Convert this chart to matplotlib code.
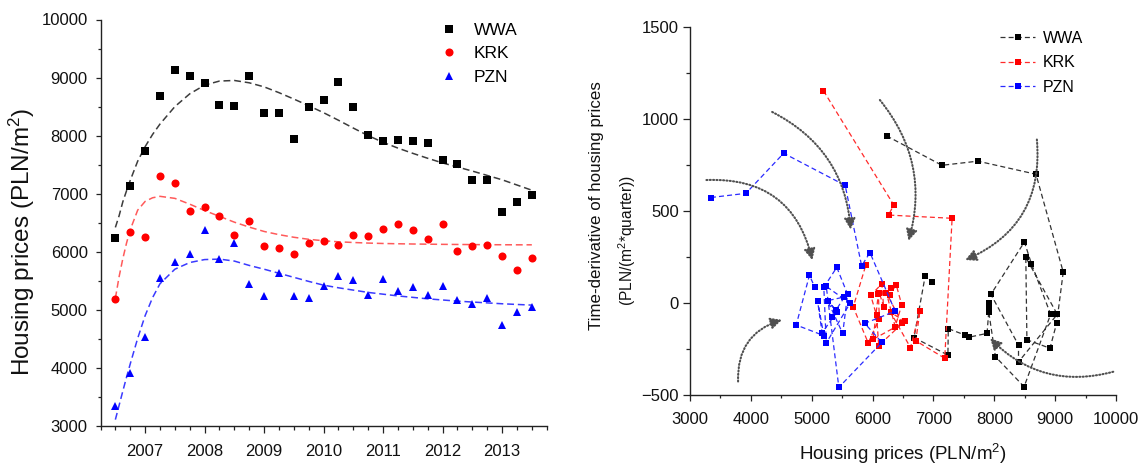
import numpy as np
import matplotlib
matplotlib.use("Agg")
import matplotlib.pyplot as plt
from matplotlib.ticker import MultipleLocator

plt.rcParams['font.family'] = ['Liberation Sans', 'DejaVu Sans']
plt.rcParams['mathtext.fontset'] = 'custom'
plt.rcParams['mathtext.rm'] = 'Liberation Sans'
plt.rcParams['mathtext.it'] = 'Liberation Sans:italic'

# ---------------- data ----------------
quarters = [2006.50, 2006.75, 2007.00, 2007.25, 2007.50, 2007.75, 2008.00, 2008.25,
            2008.50, 2008.75, 2009.00, 2009.25, 2009.50, 2009.75, 2010.00, 2010.25,
            2010.50, 2010.75, 2011.00, 2011.25, 2011.50, 2011.75, 2012.00, 2012.25,
            2012.50, 2012.75, 2013.00, 2013.25, 2013.50]

wwa = [6230, 7140, 7730, 8685, 9133, 9024, 8915, 8536, 8518, 9035, 8398, 8398, 7944, 8495,
       8610, 8926, 8490, 8019, 7910, 7921, 7915, 7881, 7588, 7513, 7244, 7238, 6681, 6865, 6980]
krk = [5193, 6348, 6262, 7307, 7186, 6710, 6778, 6623, 6296, 6526, 6101, 6066, 5969, 6153,
       6181, 6112, 6296, 6279, 6388, 6480, 6371, 6227, 6486, 6009, 6095, 6112, 5928, 5682, 5888]
pzn = [3344, 3919, 4539, 5550, 5820, 5957, 6371, 5871, 6153, 5446, 5239, 5630, 5239, 5199,
       5412, 5590, 5509, 5262, 5538, 5331, 5394, 5262, 5417, 5170, 5096, 5199, 4745, 4963, 5050]

# fitted trend curves
fit_t = [2006.5, 2006.5625, 2006.625, 2006.6875, 2006.75, 2006.875, 2007.0, 2007.125, 2007.25,
         2007.5, 2007.75, 2008.0, 2008.25, 2008.5, 2008.75, 2009.0, 2009.25, 2009.5, 2009.75,
         2010.0, 2010.25, 2010.5, 2010.75, 2011.0, 2011.25, 2011.5, 2011.75, 2012.0, 2012.25,
         2012.5, 2012.75, 2013.0, 2013.25, 2013.5]
wwa_fit = [6420, 6620, 6860, 7050, 7230, 7560, 7810, 8020, 8200,
           8500, 8720, 8870, 8940, 8950, 8910, 8840, 8740, 8630, 8515,
           8395, 8265, 8130, 8000, 7885, 7785, 7695, 7610, 7530, 7460,
           7390, 7315, 7240, 7150, 7060]
krk_fit = [5200, 5570, 5880, 6150, 6380, 6717, 6867, 6930, 6955,
           6920, 6820, 6710, 6610, 6510, 6425, 6350, 6295, 6250, 6215,
           6190, 6172, 6160, 6150, 6143, 6138, 6134, 6131, 6128, 6126,
           6124, 6122, 6121, 6120, 6120]
pzn_fit = [3110, 3355, 3600, 3840, 4070, 4510, 4900, 5210, 5450,
           5700, 5815, 5866, 5874, 5840, 5765, 5700, 5630, 5560, 5490,
           5425, 5380, 5340, 5300, 5270, 5240, 5215, 5190, 5170, 5150,
           5135, 5120, 5105, 5093, 5082]

labels = ['WWA', 'KRK', 'PZN']
year_ticks = [2007, 2008, 2009, 2010, 2011, 2012, 2013]

# dotted guide arrows in the phase plot: (start, end, curvature)
arrows = [((3270, 670), (5010, 235), -0.41),
          ((4350, 1040), (5640, 400), -0.28),
          ((6120, 1105), (6590, 340), -0.26),
          ((8700, 890), (7520, 235), -0.36),
          ((3790, -425), (4510, -90), -0.38),
          ((9955, -372), (7930, -190), -0.29)]

# ---------------- figure ----------------
W, H = 1148, 466
fig = plt.figure(figsize=(W / 100, H / 100), dpi=100)

ax1 = fig.add_axes([100.5 / W, 40 / H, 446.2 / W, 406.5 / H])
ax2 = fig.add_axes([690 / W, 70.7 / H, 426 / W, 368 / H])

for ax in (ax1, ax2):
    ax.spines['top'].set_visible(False)
    ax.spines['right'].set_visible(False)
    for s in ('left', 'bottom'):
        ax.spines[s].set_linewidth(1.0)
        ax.spines[s].set_color('#222222')
    ax.tick_params(which='both', direction='out', color='#222222', width=0.9,
                   labelsize=12, labelcolor='#111111')

# ----- left panel -----
pt_colors = ['#000000', '#ff0000', '#0000ff']
fit_colors = ['#3c3c3c', '#ff5a5a', '#3a3aff']
markers = ['s', 'o', '^']
msizes = [5.2, 5.8, 6.2]
for series, fit, c, fc, m, ms, lab in zip((wwa, krk, pzn), (wwa_fit, krk_fit, pzn_fit),
                                          pt_colors, fit_colors, markers, msizes, labels):
    ax1.plot(fit_t, fit, linestyle=(0, (4.5, 2.5)), color=fc, lw=1.1, zorder=2)
    ax1.plot(quarters, series, linestyle='none', marker=m, ms=ms, color=c,
             markeredgewidth=0, label=lab, zorder=3)

ax1.set_xlim(2006.25, 2013.75)
ax1.set_ylim(3000, 10000)
ax1.set_xticks(year_ticks)
ax1.xaxis.set_minor_locator(MultipleLocator(0.25))
ax1.yaxis.set_major_locator(MultipleLocator(1000))
ax1.yaxis.set_minor_locator(MultipleLocator(500))
ax1.tick_params(axis='x', which='major', length=5, pad=8)
ax1.tick_params(axis='x', which='minor', length=3)
ax1.tick_params(axis='y', which='major', length=3.7, pad=5.5)
ax1.tick_params(axis='y', which='minor', length=2.3)

leg1 = ax1.legend(loc='upper left', bbox_to_anchor=(0.762, 0.992), frameon=False,
                  fontsize=12.5, handlelength=1.0, handletextpad=0.9, labelspacing=0.48,
                  borderpad=0, borderaxespad=0, markerscale=1.0)

fig.text(22 / W, 1 - 242 / H, 'Housing prices (PLN/m$^\\mathregular{2}$)', rotation=90,
         ha='center', va='center', fontsize=17.5, color='#111111')

# ----- right panel -----
line_colors = ['#333333', '#ff2a2a', '#2a2aff']
for series, c, lc, lab in zip((wwa, krk, pzn), pt_colors, line_colors, labels):
    deriv = np.gradient(np.asarray(series, dtype=float))  # PLN/(m2*quarter)
    ax2.plot(series, deriv, linestyle=(0, (4, 2.5)), color=lc, lw=0.9,
             marker='s', ms=5, markerfacecolor=c, markeredgecolor=c, markeredgewidth=0,
             label=lab)

for (x0, y0), (x1, y1), rad in arrows:
    ax2.annotate('', xy=(x1, y1), xytext=(x0, y0),
                 arrowprops=dict(arrowstyle='-|>,head_length=0.55,head_width=0.28',
                                 connectionstyle='arc3,rad=%g' % rad,
                                 linestyle=(0, (0.5, 1.1)), lw=1.5, color='#505050',
                                 shrinkA=0, shrinkB=0, mutation_scale=12))

ax2.set_xlim(3000, 10000)
ax2.set_ylim(-500, 1500)
ax2.xaxis.set_major_locator(MultipleLocator(1000))
ax2.xaxis.set_minor_locator(MultipleLocator(500))
ax2.yaxis.set_major_locator(MultipleLocator(500))
ax2.yaxis.set_minor_locator(MultipleLocator(250))
ax2.tick_params(axis='x', which='major', length=4.5, pad=7.5)
ax2.tick_params(axis='x', which='minor', length=2.5)
ax2.tick_params(axis='y', which='major', length=5, pad=3)
ax2.tick_params(axis='y', which='minor', length=3)

leg2 = ax2.legend(loc='upper left', bbox_to_anchor=(0.728, 0.99), frameon=False,
                  fontsize=11.5, handlelength=2.2, handletextpad=0.45, labelspacing=0.58,
                  borderpad=0, borderaxespad=0)

fig.text(903 / W, 1 - 454 / H, 'Housing prices (PLN/m$^\\mathregular{2}$)',
         ha='center', va='center', fontsize=13.5, color='#111111')
fig.text(597 / W, 1 - 205.5 / H, 'Time-derivative of housing prices', rotation=90,
         ha='center', va='center', fontsize=12.2, color='#111111')
fig.text(627.5 / W, 1 - 241 / H, '(PLN/(m$^\\mathregular{2}$*quarter))', rotation=90,
         ha='center', va='center', fontsize=11.2, color='#111111')

fig.savefig('out.png', dpi=100)
